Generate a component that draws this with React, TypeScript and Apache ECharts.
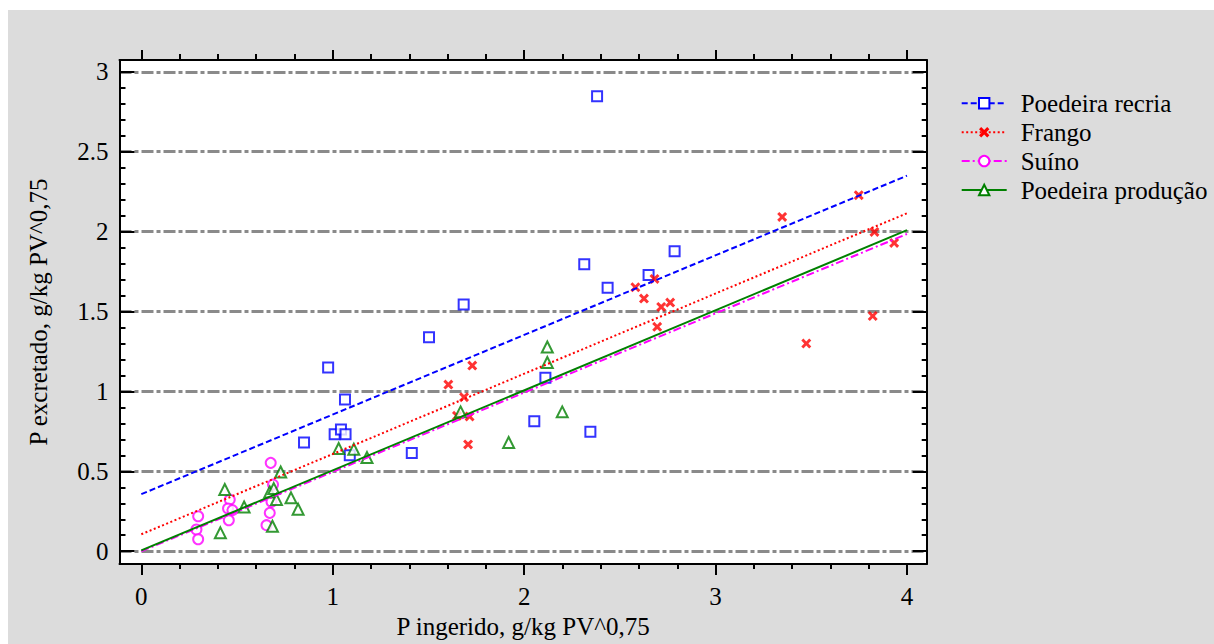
import React, { useEffect, useRef } from "react";
import * as echarts from "echarts";

const FONT = "Liberation Serif";
const FS = 25;

const SERIES_NAMES = ["Poedeira recria", "Frango", "Suíno", "Poedeira produção"];
const SERIES_COLORS = ["#0000ff", "#ff0000", "#ff00ff", "#008000"];

// Observed points [P ingerido, P excretado]
const recriaPoints = [
  [0.976, 1.15], [0.85, 0.68], [1.01, 0.732], [1.043, 0.762], [1.067, 0.732],
  [1.064, 0.949], [1.089, 0.601], [1.413, 0.615], [1.503, 1.339], [1.684, 1.544],
  [2.053, 0.814], [2.111, 1.085], [2.346, 0.747], [2.314, 1.796], [2.436, 1.648],
  [2.65, 1.729], [2.786, 1.877], [2.381, 2.847],
];
const frangoPoints = [
  [1.604, 1.043], [1.686, 0.964], [1.649, 0.847], [1.715, 0.843], [1.707, 0.668],
  [1.729, 1.162], [2.581, 1.652], [2.626, 1.581], [2.681, 1.704], [2.716, 1.529],
  [2.763, 1.556], [2.695, 1.404], [3.348, 2.092], [3.474, 1.3], [3.748, 2.228],
  [3.821, 1.472], [3.83, 1.998], [3.933, 1.929],
];
const suinoPoints = [
  [0.297, 0.219], [0.288, 0.136], [0.297, 0.075], [0.462, 0.323], [0.453, 0.267],
  [0.476, 0.257], [0.457, 0.194], [0.676, 0.553], [0.688, 0.417], [0.68, 0.309],
  [0.671, 0.24], [0.654, 0.163],
];
const producaoPoints = [
  [0.413, 0.115], [0.436, 0.386], [0.537, 0.277], [0.671, 0.371], [0.692, 0.392],
  [0.706, 0.323], [0.685, 0.156], [0.728, 0.496], [0.782, 0.334], [0.819, 0.263],
  [1.031, 0.643], [1.11, 0.638], [1.179, 0.586], [1.668, 0.872], [1.919, 0.68],
  [2.121, 1.181], [2.121, 1.278], [2.199, 0.872],
];

// Fitted regression lines (end points)
const recriaLine = [[0, 0.357], [4, 2.35]];
const frangoLine = [[0, 0.106], [4, 2.115]];
const suinoLine = [[0, 0.0], [4, 1.985]];
const producaoLine = [[0, 0.005], [4, 2.009]];

// Axis ticks
const X_MIN = -0.114;
const X_MAX = 4.103;
const Y_MIN = -0.08;
const Y_MAX = 3.074;
const X_MAJOR = [0, 1, 2, 3, 4];
const X_MINOR = [0.2, 0.4, 0.6, 0.8, 1.2, 1.4, 1.6, 1.8, 2.2, 2.4, 2.6, 2.8, 3.2, 3.4, 3.6, 3.8];
const Y_MAJOR = [0, 0.5, 1, 1.5, 2, 2.5, 3];
const Y_MINOR = [
  0.1, 0.2, 0.3, 0.4, 0.6, 0.7, 0.8, 0.9, 1.1, 1.2, 1.3, 1.4,
  1.6, 1.7, 1.8, 1.9, 2.1, 2.2, 2.3, 2.4, 2.6, 2.7, 2.8, 2.9,
];
const GRID_LINES = [0, 0.5, 1, 1.5, 2, 2.5, 3];

const X_TITLE = "P ingerido, g/kg PV^0,75";
const Y_TITLE = "P excretado, g/kg PV^0,75";

const CROSS = "path://M0,2.1L2.1,0L5,2.9L7.9,0L10,2.1L7.1,5L10,7.9L7.9,10L5,7.1L2.1,10L0,7.9L2.9,5Z";
const SYMBOLS = ["emptyRect", CROSS, "emptyCircle", "emptyTriangle"];
const SYMBOL_SIZES: any[] = [[10, 10], 10, 10, [11, 11]];
const DASHES: any[] = [[6, 3], [2, 2.5], [8, 3, 2, 3], "solid"];

const POINTS = [recriaPoints, frangoPoints, suinoPoints, producaoPoints];
const LINES = [recriaLine, frangoLine, suinoLine, producaoLine];

const axisLineStyle = { color: "#000", width: 2 };
const textBase = { fontSize: FS, fontFamily: FONT, color: "#000" };

function xAxisDef(position: string, ticks: number[], len: number, main: boolean): any {
  return {
    type: "value",
    min: X_MIN,
    max: X_MAX,
    position,
    z: 6,
    axisLine: { show: main, onZero: false, lineStyle: axisLineStyle },
    axisTick: { show: true, inside: false, length: len, customValues: ticks, lineStyle: { color: "#000", width: 2 } },
    axisLabel:
      main && position === "bottom"
        ? { show: true, customValues: X_MAJOR, margin: 20, ...textBase }
        : { show: false },
    splitLine: { show: false },
    ...(main && position === "bottom"
      ? {
          name: X_TITLE,
          nameLocation: "middle",
          nameGap: 50,
          nameMoveOverlap: false,
          nameTextStyle: textBase,
        }
      : {}),
  };
}

function yAxisDef(position: string, ticks: number[], len: number, main: boolean): any {
  return {
    type: "value",
    min: Y_MIN,
    max: Y_MAX,
    position,
    z: 6,
    axisLine: { show: main, onZero: false, lineStyle: axisLineStyle },
    axisTick: { show: true, inside: true, length: len, customValues: ticks, lineStyle: { color: "#000", width: 2 } },
    axisLabel:
      main && position === "left"
        ? { show: true, customValues: Y_MAJOR, margin: 11, ...textBase }
        : { show: false },
    splitLine: { show: false },
    ...(main && position === "left"
      ? {
          name: Y_TITLE,
          nameLocation: "middle",
          nameGap: 69,
          nameRotate: 90,
          nameMoveOverlap: false,
          nameTextStyle: textBase,
        }
      : {}),
  };
}

function buildOption(): any {
  const series: any[] = [];
  SERIES_NAMES.forEach((name, i) => {
    const line: any = {
      type: "line",
      name,
      data: LINES[i],
      showSymbol: false,
      symbol: SYMBOLS[i],
      color: SERIES_COLORS[i],
      z: 4,
      lineStyle: { color: SERIES_COLORS[i], width: 2, type: DASHES[i] },
      itemStyle: { color: SERIES_COLORS[i] },
      silent: true,
    };
    if (i === 0) {
      line.markLine = {
        silent: true,
        z: 1,
        symbol: ["none", "none"],
        label: { show: false },
        lineStyle: { color: "#8a8a8a", width: 3.2, type: [12, 3, 4, 3] },
        emphasis: { disabled: true },
        data: GRID_LINES.map((v) => ({ yAxis: v })),
      };
    }
    series.push(line);
  });
  SERIES_NAMES.forEach((name, i) => {
    series.push({
      type: "scatter",
      name,
      data: POINTS[i],
      symbol: SYMBOLS[i],
      symbolSize: SYMBOL_SIZES[i],
      color: SERIES_COLORS[i],
      z: 3,
      itemStyle: { color: SERIES_COLORS[i], borderColor: SERIES_COLORS[i], borderWidth: i === 1 ? 0 : 2 },
      silent: true,
    });
  });

  return {
    animation: false,
    backgroundColor: "#dcdcdc",
    textStyle: { fontFamily: FONT },
    grid: {
      left: 111.5,
      top: 50,
      right: 287.3,
      bottom: 80,
      show: true,
      backgroundColor: "#ffffff",
      borderWidth: 0,
      containLabel: false,
      outerBoundsMode: "none",
    },
    legend: {
      data: SERIES_NAMES,
      orient: "vertical",
      left: 952.7,
      top: 80.8,
      padding: 0,
      itemWidth: 45,
      itemHeight: 13,
      itemGap: 3.9,
      selectedMode: false,
      textStyle: { ...textBase, lineHeight: 25, padding: [0, 0, 0, 9] },
    },
    xAxis: [
      xAxisDef("bottom", X_MAJOR, 11, true),
      xAxisDef("bottom", X_MINOR, 5, false),
      xAxisDef("top", X_MAJOR, 10, true),
      xAxisDef("top", X_MINOR, 6, false),
    ],
    yAxis: [
      yAxisDef("left", Y_MAJOR, 15, true),
      yAxisDef("left", Y_MINOR, 6, false),
      yAxisDef("right", Y_MAJOR, 14, true),
      yAxisDef("right", Y_MINOR, 5, false),
    ],
    series,
  };
}

export default function App() {
  const ref = useRef<HTMLDivElement>(null);
  useEffect(() => {
    if (!ref.current) return;
    const chart = echarts.init(ref.current, null, { renderer: "svg" });
    chart.setOption(buildOption());
    return () => chart.dispose();
  }, []);
  return (
    <div
      ref={ref}
      style={{ position: "absolute", left: 8, top: 10, width: 1206, height: 634 }}
    />
  );
}
